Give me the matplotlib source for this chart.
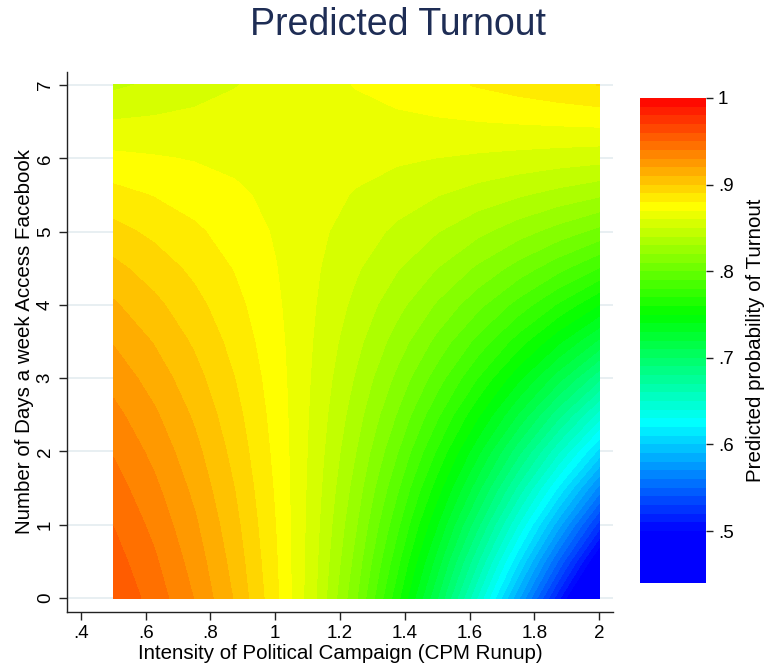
import colorsys
import numpy as np
import matplotlib
matplotlib.use("Agg")
import matplotlib.pyplot as plt

plt.rcParams['font.family'] = ['Liberation Sans', 'DejaVu Sans']

# grid of campaign intensity (x) and days on facebook (y)
campaign = [0.5, 0.625, 0.75, 0.875, 1.0, 1.125, 1.25, 1.375, 1.5, 1.625, 1.75, 1.875, 2.0]
days = [0, 0.5, 1, 1.5, 2, 2.5, 3, 3.5, 4, 4.5, 5, 5.5, 6, 6.5, 7]

# predicted probability of turnout, one row per value of days
turnout = [
    [0.9586, 0.9459, 0.9295, 0.9088, 0.8826, 0.8502, 0.8107, 0.7638, 0.7100, 0.6484, 0.5818, 0.5123, 0.4424],
    [0.9544, 0.9417, 0.9257, 0.9058, 0.8813, 0.8515, 0.8157, 0.7735, 0.7251, 0.6706, 0.6111, 0.5481, 0.4836],
    [0.9497, 0.9372, 0.9217, 0.9028, 0.8800, 0.8527, 0.8204, 0.7829, 0.7401, 0.6922, 0.6395, 0.5834, 0.5251],
    [0.9446, 0.9323, 0.9174, 0.8997, 0.8787, 0.8539, 0.8251, 0.7920, 0.7546, 0.7133, 0.6670, 0.6179, 0.5662],
    [0.9391, 0.9271, 0.9130, 0.8965, 0.8773, 0.8552, 0.8297, 0.8009, 0.7685, 0.7327, 0.6934, 0.6512, 0.6065],
    [0.9330, 0.9216, 0.9084, 0.8933, 0.8760, 0.8564, 0.8342, 0.8094, 0.7819, 0.7516, 0.7190, 0.6831, 0.6453],
    [0.9263, 0.9156, 0.9035, 0.8899, 0.8747, 0.8576, 0.8386, 0.8176, 0.7947, 0.7697, 0.7425, 0.7138, 0.6823],
    [0.9191, 0.9093, 0.8984, 0.8864, 0.8733, 0.8588, 0.8429, 0.8256, 0.8069, 0.7867, 0.7650, 0.7418, 0.7176],
    [0.9112, 0.9025, 0.8931, 0.8829, 0.8718, 0.8600, 0.8471, 0.8334, 0.8186, 0.8029, 0.7861, 0.7683, 0.7496],
    [0.9026, 0.8953, 0.8875, 0.8792, 0.8704, 0.8611, 0.8512, 0.8408, 0.8298, 0.8181, 0.8058, 0.7929, 0.7794],
    [0.8933, 0.8876, 0.8817, 0.8755, 0.8690, 0.8623, 0.8552, 0.8479, 0.8403, 0.8324, 0.8241, 0.8155, 0.8066],
    [0.8832, 0.8794, 0.8756, 0.8717, 0.8676, 0.8635, 0.8592, 0.8548, 0.8503, 0.8457, 0.8410, 0.8362, 0.8312],
    [0.8723, 0.8708, 0.8693, 0.8677, 0.8662, 0.8646, 0.8630, 0.8614, 0.8598, 0.8582, 0.8566, 0.8549, 0.8533],
    [0.8605, 0.8615, 0.8626, 0.8637, 0.8647, 0.8658, 0.8668, 0.8678, 0.8688, 0.8698, 0.8708, 0.8718, 0.8728],
    [0.8478, 0.8518, 0.8557, 0.8595, 0.8632, 0.8669, 0.8704, 0.8739, 0.8773, 0.8806, 0.8839, 0.8871, 0.8902],
]

levels = np.round(np.arange(0.44, 1.0001, 0.01), 2)

# hue rule: red at 1, blue at .5 and below
band_colors = []
for lo, hi in zip(levels[:-1], levels[1:]):
    mid = (lo + hi) / 2
    h = min(240.0, max(0.0, (1 - mid) * 480.0))
    band_colors.append(colorsys.hsv_to_rgb(h / 360.0, 1.0, 1.0))

fig = plt.figure(figsize=(7.67, 6.71), dpi=100)
ax = fig.add_axes([67 / 767, 1 - 612 / 671, 546 / 767, 540 / 671])

X, Y = np.meshgrid(campaign, days)
cs = ax.contourf(X, Y, np.array(turnout), levels=levels, colors=band_colors)
cs.set_edgecolor('face')
cs.set_linewidth(0.4)

ax.set_xlim(0.357, 2.043)
ax.set_ylim(-0.191, 7.177)
ax.set_xticks([0.4, 0.6, 0.8, 1.0, 1.2, 1.4, 1.6, 1.8, 2.0])
ax.set_xticklabels(['.4', '.6', '.8', '1', '1.2', '1.4', '1.6', '1.8', '2'])
ax.set_yticks(range(8))
ax.yaxis.grid(True, color='#e6eef1', lw=1.3)
ax.set_axisbelow(True)

for s in ['top', 'right']:
    ax.spines[s].set_visible(False)
for s in ['left', 'bottom']:
    ax.spines[s].set_color('#222222')
    ax.spines[s].set_linewidth(1.0)

ax.tick_params(axis='both', labelsize=13.5, length=6, width=1.0, color='#222222', direction='out')
ax.tick_params(axis='y', labelrotation=90)
for lab in ax.get_yticklabels():
    lab.set_va('center')

ax.set_xlabel('Intensity of Political Campaign (CPM Runup)', fontsize=14.8, labelpad=1)
ax.set_ylabel('Number of Days a week Access Facebook', fontsize=14.8, labelpad=2)

fig.text(398 / 767, 1 - 25 / 671, 'Predicted Turnout', fontsize=27, color='#1e2d55',
         ha='center', va='center')

cax = fig.add_axes([640 / 767, 1 - 583 / 671, 66 / 767, 485 / 671])
cb = fig.colorbar(cs, cax=cax)
cb.outline.set_visible(False)
cb.set_ticks([0.5, 0.6, 0.7, 0.8, 0.9, 1.0])
cb.set_ticklabels(['.5', '.6', '.7', '.8', '.9', '1'])
cax.tick_params(labelsize=13.5, length=5, width=1.0, color='#222222')
cb.set_label('Predicted probability of Turnout', fontsize=14.8, labelpad=9)

fig.savefig('out.png', dpi=100)
